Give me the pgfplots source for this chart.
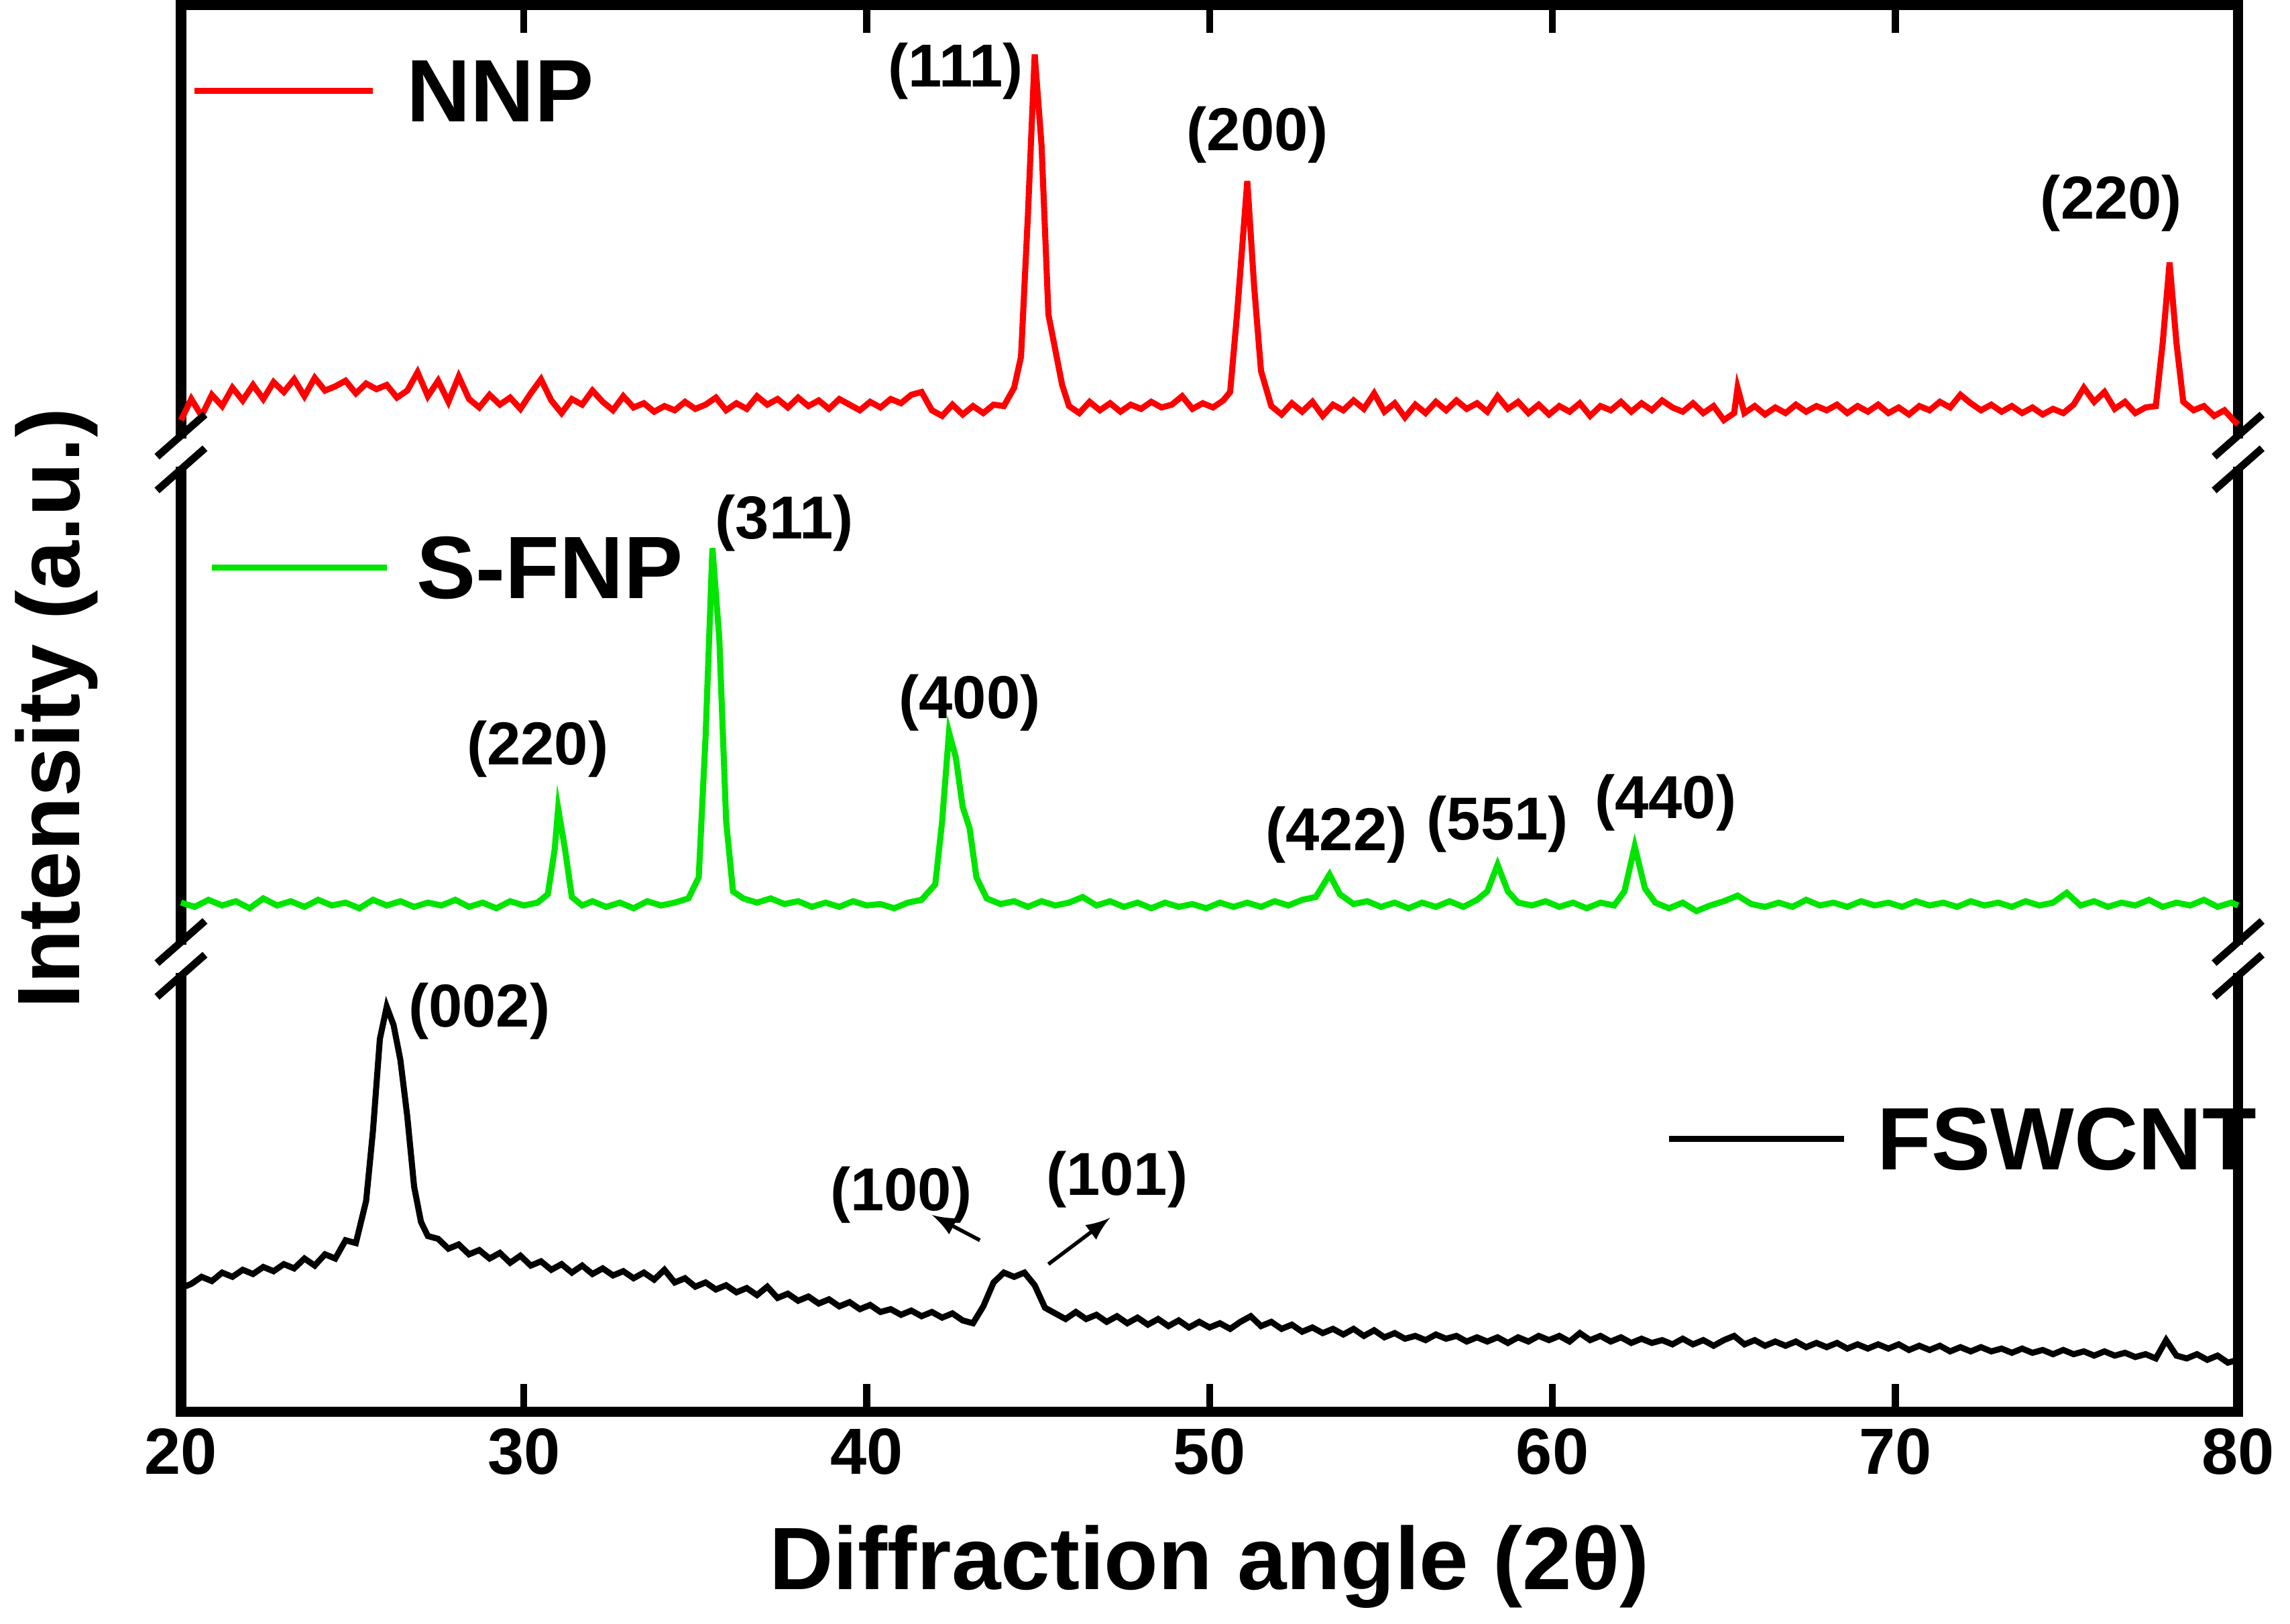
\documentclass[border=0pt]{standalone}
\usepackage{pgfplots}
\pgfplotsset{compat=1.18}
\usepackage{fontspec}
\setmainfont{Liberation Sans}
\begin{document}
\begin{tikzpicture}[font=\bfseries]
\begin{axis}[
  scale only axis, width=15.5cm, height=10.6cm,
  xmin=20, xmax=80, ymin=0, ymax=100,
  xtick={20,30,...,80}, ytick=\empty,
  tick style={line width=1.5pt, black}, major tick length=6pt,
  axis line style={line width=2.2pt},
  tick align=inside,
  xticklabel style={font=\fontsize{14}{16}\selectfont\bfseries},
  /pgf/number format/assume math mode=true,
  xlabel={\fontsize{19}{22}\selectfont Diffraction angle (2θ)},
  xlabel style={yshift=-4pt},
  ylabel={\fontsize{19}{22}\selectfont Intensity (a.u.)},
  ylabel style={at={(rel axis cs:0,0.5)}, anchor=south, yshift=0.5cm, rotate=0},
  clip=false,
]
% NNP
\addplot[red, line width=1.3pt] coordinates {
(20,70.5)(20.3,72)(20.6,70.8)(20.9,72.3)(21.2,71.5)(21.5,72.8)(21.8,71.9)(22.1,73)(22.4,72)(22.7,73.2)(23,72.5)(23.3,73.4)(23.6,72.2)(23.9,73.5)(24.2,72.6)(24.5,72.9)(24.8,73.3)(25.1,72.4)(25.4,73.1)(25.7,72.7)(26,73)(26.3,72.1)(26.6,72.6)(26.9,73.9)(27.2,72.2)(27.5,73.3)(27.8,71.8)(28.1,73.6)(28.4,72)(28.7,71.4)(29,72.3)(29.3,71.6)(29.6,72.1)(29.9,71.3)(30.2,72.4)(30.5,73.4)(30.8,71.9)(31.1,71)(31.4,72)(31.7,71.6)(32,72.6)(32.3,71.8)(32.6,71.2)(32.9,72.2)(33.2,71.4)(33.5,71.7)(33.8,71.1)(34.1,71.5)(34.4,71.2)(34.7,71.8)(35,71.3)(35.3,71.6)(35.6,72.1)(35.9,71.2)(36.2,71.7)(36.5,71.3)(36.8,72.2)(37.1,71.6)(37.4,72)(37.7,71.4)(38,72.1)(38.3,71.5)(38.6,71.9)(38.9,71.3)(39.2,72)(39.5,71.6)(39.8,71.2)(40.1,71.8)(40.4,71.4)(40.7,72)(41,71.7)(41.3,72.3)(41.6,72.5)(41.9,71.2)(42.2,70.8)(42.5,71.6)(42.8,70.9)(43.1,71.5)(43.4,71)(43.7,71.6)(44,71.5)(44.3,72.8)(44.5,75)(44.7,85)(44.9,96.5)(45.1,90)(45.3,78)(45.5,75.5)(45.7,73)(45.9,71.5)(46.2,71)(46.5,71.8)(46.8,71.2)(47.1,71.7)(47.4,71.1)(47.7,71.6)(48,71.3)(48.3,71.8)(48.6,71.4)(48.9,71.6)(49.2,72.2)(49.5,71.3)(49.8,71.7)(50.1,71.4)(50.4,71.9)(50.6,72.5)(50.8,78)(51.1,87.5)(51.3,80)(51.5,74)(51.8,71.5)(52.1,70.9)(52.4,71.7)(52.7,71.1)(53,71.8)(53.3,70.8)(53.6,71.6)(53.9,71.2)(54.2,71.9)(54.5,71.3)(54.8,72.4)(55.1,71.1)(55.4,71.7)(55.7,70.7)(56,71.6)(56.3,71)(56.6,71.8)(56.9,71.2)(57.2,71.9)(57.5,71.3)(57.8,71.7)(58.1,71.1)(58.4,72.2)(58.7,71.3)(59,71.8)(59.3,71)(59.6,71.6)(59.9,70.9)(60.2,71.5)(60.5,71.1)(60.8,71.7)(61.1,70.8)(61.4,71.5)(61.7,71.2)(62,71.8)(62.3,71.1)(62.6,71.7)(62.9,71.2)(63.2,71.9)(63.5,71.4)(63.8,71.1)(64.1,71.7)(64.4,71)(64.7,71.5)(65,70.5)(65.3,71)(65.4,72.8)(65.6,71)(65.9,71.5)(66.2,70.9)(66.5,71.4)(66.8,71)(67.1,71.6)(67.4,71.1)(67.7,71.5)(68,71.2)(68.3,71.6)(68.6,71)(68.9,71.5)(69.2,71.1)(69.5,71.6)(69.8,71)(70.1,71.4)(70.4,70.9)(70.7,71.5)(71,71.2)(71.3,71.8)(71.6,71.4)(71.9,72.3)(72.2,71.7)(72.5,71.2)(72.8,71.6)(73.1,71.1)(73.4,71.5)(73.7,71)(74,71.4)(74.3,70.9)(74.6,71.3)(74.9,71)(75.2,71.6)(75.5,72.8)(75.8,71.8)(76.1,72.5)(76.4,71.3)(76.7,71.8)(77,71)(77.3,71.4)(77.6,71.5)(77.8,76)(78,81.7)(78.2,76)(78.4,71.8)(78.7,71.2)(79,71.5)(79.3,70.8)(79.6,71.2)(79.9,70.4)(80,70.2)};
% S-FNP
\addplot[green!90!black, line width=1.3pt] coordinates {
(20,36.2)(20.4,35.9)(20.8,36.4)(21.2,36)(21.6,36.3)(22,35.8)(22.4,36.5)(22.8,36)(23.2,36.3)(23.6,35.9)(24,36.4)(24.4,36)(24.8,36.2)(25.2,35.8)(25.6,36.4)(26,36)(26.4,36.3)(26.8,35.9)(27.2,36.2)(27.6,36)(28,36.4)(28.4,35.9)(28.8,36.2)(29.2,35.8)(29.6,36.3)(30,36)(30.4,36.2)(30.7,36.8)(30.9,40)(31,42.9)(31.2,40)(31.4,36.6)(31.7,36)(32,36.3)(32.4,35.9)(32.8,36.2)(33.2,35.8)(33.6,36.3)(34,36)(34.4,36.2)(34.8,36.5)(35.1,38)(35.3,48)(35.5,61.4)(35.7,55)(35.9,42)(36.1,37)(36.4,36.5)(36.8,36.2)(37.2,36.5)(37.6,36.1)(38,36.3)(38.4,35.9)(38.8,36.2)(39.2,35.9)(39.6,36.3)(40,36)(40.4,36.1)(40.8,35.8)(41.2,36.2)(41.6,36.4)(42,37.5)(42.2,42)(42.4,48.3)(42.6,46.5)(42.8,43)(43,41.5)(43.2,38)(43.5,36.5)(43.9,36.1)(44.3,36.3)(44.7,35.9)(45.1,36.3)(45.5,36)(45.9,36.2)(46.3,36.6)(46.7,36)(47.1,36.3)(47.5,35.9)(47.9,36.2)(48.3,35.8)(48.7,36.2)(49.1,35.9)(49.5,36.1)(49.9,35.8)(50.3,36.2)(50.7,35.9)(51.1,36.2)(51.5,35.9)(51.9,36.3)(52.3,36)(52.7,36.4)(53.1,36.6)(53.5,38.2)(53.8,36.8)(54.2,36.1)(54.6,36.3)(55,35.9)(55.4,36.2)(55.8,35.8)(56.2,36.2)(56.6,35.9)(57,36.3)(57.4,35.9)(57.8,36.4)(58.1,37)(58.4,38.9)(58.7,37)(59,36.2)(59.4,36)(59.8,36.3)(60.2,35.9)(60.6,36.2)(61,35.8)(61.4,36.2)(61.8,36)(62.1,37)(62.4,40.2)(62.7,37.2)(63,36.2)(63.4,35.8)(63.8,36.2)(64.2,35.6)(64.6,36)(65,36.3)(65.4,36.7)(65.8,36.1)(66.2,35.9)(66.6,36.2)(67,35.9)(67.4,36.4)(67.8,36)(68.2,36.2)(68.6,35.9)(69,36.3)(69.4,36)(69.8,36.2)(70.2,35.9)(70.6,36.3)(71,36)(71.4,36.2)(71.8,35.9)(72.2,36.3)(72.6,36)(73,36.2)(73.4,35.9)(73.8,36.3)(74.2,36)(74.6,36.2)(75,36.9)(75.4,36)(75.8,36.3)(76.2,35.9)(76.6,36.2)(77,36)(77.4,36.4)(77.8,35.9)(78.2,36.2)(78.6,36)(79,36.4)(79.4,35.9)(79.8,36.2)(80,36)};
% FSWCNT
\addplot[black, line width=1.3pt] coordinates {
(20,8.8)(20.3,9.1)(20.6,9.6)(20.9,9.3)(21.2,9.9)(21.5,9.6)(21.8,10.1)(22.1,9.8)(22.4,10.3)(22.7,10)(23,10.5)(23.3,10.2)(23.6,10.9)(23.9,10.4)(24.2,11.2)(24.5,10.9)(24.8,12.2)(25.1,12)(25.4,15)(25.6,20)(25.8,26.5)(26,28.8)(26.2,27.5)(26.4,25)(26.6,21)(26.8,16)(27,13.5)(27.2,12.5)(27.5,12.3)(27.8,11.6)(28.1,11.9)(28.4,11.2)(28.7,11.5)(29,10.9)(29.3,11.3)(29.6,10.6)(29.9,11.1)(30.2,10.4)(30.5,10.7)(30.8,10.1)(31.1,10.5)(31.4,9.9)(31.7,10.4)(32,9.8)(32.3,10.2)(32.6,9.7)(32.9,10)(33.2,9.5)(33.5,9.9)(33.8,9.4)(34.1,10.1)(34.4,9.2)(34.7,9.5)(35,8.9)(35.3,9.2)(35.6,8.7)(35.9,9)(36.2,8.5)(36.5,8.8)(36.8,8.3)(37.1,8.9)(37.4,8.1)(37.7,8.4)(38,7.9)(38.3,8.2)(38.6,7.7)(38.9,8)(39.2,7.5)(39.5,7.8)(39.8,7.3)(40.1,7.6)(40.4,7.1)(40.7,7.3)(41,6.9)(41.3,7.2)(41.6,6.8)(41.9,7.1)(42.2,6.7)(42.5,7)(42.8,6.5)(43.1,6.3)(43.4,7.5)(43.7,9.2)(44,9.9)(44.3,9.6)(44.6,9.9)(44.9,9)(45.2,7.4)(45.5,7)(45.8,6.6)(46.1,7.1)(46.4,6.6)(46.7,6.9)(47,6.4)(47.3,6.8)(47.6,6.3)(47.9,6.7)(48.2,6.2)(48.5,6.6)(48.8,6.1)(49.1,6.5)(49.4,6)(49.7,6.4)(50,6)(50.3,6.3)(50.6,5.9)(50.9,6.4)(51.2,6.8)(51.5,6.1)(51.8,6.4)(52.1,5.9)(52.4,6.2)(52.7,5.7)(53,6)(53.3,5.6)(53.6,5.9)(53.9,5.5)(54.2,5.9)(54.5,5.4)(54.8,5.8)(55.1,5.3)(55.4,5.6)(55.7,5.2)(56,5.4)(56.3,5.1)(56.6,5.5)(56.9,5.2)(57.2,5.4)(57.5,5)(57.8,5.3)(58.1,5)(58.4,5.3)(58.7,4.9)(59,5.3)(59.3,5)(59.6,5.4)(59.9,5.1)(60.2,5.4)(60.5,5)(60.8,5.6)(61.1,5.1)(61.4,5.4)(61.7,5)(62,5.3)(62.3,4.9)(62.6,5.2)(62.9,4.9)(63.2,5.1)(63.5,4.8)(63.8,5.2)(64.1,4.8)(64.4,5.1)(64.7,4.7)(65,5.1)(65.3,5.4)(65.6,4.8)(65.9,5.1)(66.2,4.7)(66.5,5)(66.8,4.7)(67.1,5)(67.4,4.6)(67.7,4.9)(68,4.6)(68.3,4.9)(68.6,4.5)(68.9,4.8)(69.2,4.5)(69.5,4.8)(69.8,4.5)(70.1,4.8)(70.4,4.4)(70.7,4.7)(71,4.4)(71.3,4.7)(71.6,4.3)(71.9,4.6)(72.2,4.3)(72.5,4.6)(72.8,4.3)(73.1,4.5)(73.4,4.2)(73.7,4.5)(74,4.2)(74.3,4.4)(74.6,4.1)(74.9,4.4)(75.2,4.1)(75.5,4.3)(75.8,4)(76.1,4.3)(76.4,4)(76.7,4.2)(77,3.9)(77.3,4.1)(77.6,3.8)(77.9,5.1)(78.2,4)(78.5,3.8)(78.8,4.1)(79.1,3.7)(79.4,4)(79.7,3.5)(80,3.7)};
% legends
\draw[red, line width=1.3pt] (axis cs:20.4,93.9) -- (axis cs:25.6,93.9);
\node[anchor=west, font=\fontsize{19}{22}\selectfont\bfseries] at (axis cs:26.1,93.9) {NNP};
\draw[green!90!black, line width=1.3pt] (axis cs:20.9,60) -- (axis cs:26,60);
\node[anchor=west, font=\fontsize{19}{22}\selectfont\bfseries] at (axis cs:26.4,60) {S-FNP};
\draw[black, line width=1.3pt] (axis cs:63.4,19.4) -- (axis cs:68.5,19.4);
\node[anchor=west, font=\fontsize{19}{22}\selectfont\bfseries] at (axis cs:69,19.4) {FSWCNT};
% labels
\node[font=\fontsize{13}{15}\selectfont\bfseries] at (axis cs:42.6,95.3) {(111)};
\node[font=\fontsize{13}{15}\selectfont\bfseries] at (axis cs:51.4,90.8) {(200)};
\node[font=\fontsize{13}{15}\selectfont\bfseries] at (axis cs:76.3,85.9) {(220)};
\node[font=\fontsize{13}{15}\selectfont\bfseries] at (axis cs:37.6,63.2) {(311)};
\node[font=\fontsize{13}{15}\selectfont\bfseries] at (axis cs:30.4,47.1) {(220)};
\node[font=\fontsize{13}{15}\selectfont\bfseries] at (axis cs:43,50.4) {(400)};
\node[font=\fontsize{13}{15}\selectfont\bfseries] at (axis cs:53.7,41) {(422)};
\node[font=\fontsize{13}{15}\selectfont\bfseries] at (axis cs:58.4,41.8) {(551)};
\node[font=\fontsize{13}{15}\selectfont\bfseries] at (axis cs:63.3,43.3) {(440)};
\node[font=\fontsize{13}{15}\selectfont\bfseries] at (axis cs:28.7,28.5) {(002)};
\node[font=\fontsize{13}{15}\selectfont\bfseries] at (axis cs:41,15.4) {(100)};
\node[font=\fontsize{13}{15}\selectfont\bfseries] at (axis cs:47.3,16.5) {(101)};
\draw[-latex, line width=0.8pt] (axis cs:43.3,12.2) -- (axis cs:41.9,14);
\draw[-latex, line width=0.8pt] (axis cs:45.3,10.5) -- (axis cs:47.1,13.8);
% axis breaks
\draw[white, line width=4pt] (axis cs:20,67.2) -- (axis cs:20,69.2);
\draw[white, line width=4pt] (axis cs:80,67.2) -- (axis cs:80,69.2);
\draw[white, line width=4pt] (axis cs:20,31.2) -- (axis cs:20,33.2);
\draw[white, line width=4pt] (axis cs:80,31.2) -- (axis cs:80,33.2);
\draw[line width=1.6pt] (axis cs:19.3,65.5) -- (axis cs:20.7,68.5);
\draw[line width=1.6pt] (axis cs:19.3,67.9) -- (axis cs:20.7,70.9);
\draw[line width=1.6pt] (axis cs:79.3,65.5) -- (axis cs:80.7,68.5);
\draw[line width=1.6pt] (axis cs:79.3,67.9) -- (axis cs:80.7,70.9);
\draw[line width=1.6pt] (axis cs:19.3,29.5) -- (axis cs:20.7,32.5);
\draw[line width=1.6pt] (axis cs:19.3,31.9) -- (axis cs:20.7,34.9);
\draw[line width=1.6pt] (axis cs:79.3,29.5) -- (axis cs:80.7,32.5);
\draw[line width=1.6pt] (axis cs:79.3,31.9) -- (axis cs:80.7,34.9);
\end{axis}
\end{tikzpicture}
\end{document}
